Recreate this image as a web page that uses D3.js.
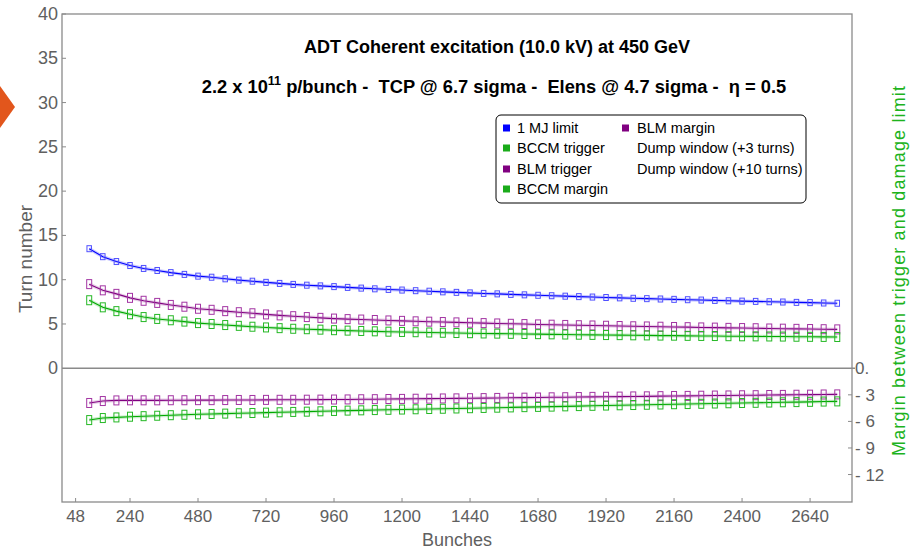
<!DOCTYPE html>
<html>
<head>
<meta charset="utf-8">
<script src="https://cdn.jsdelivr.net/npm/d3@7"></script>
<style>
body { margin: 0; background: #fff; }
text { font-family: "Liberation Sans", Arial, sans-serif; white-space: pre; }
</style>
</head>
<body>
<script>
var width = 910;
var height = 554;

// bunches per point
var bunches = [96, 144, 192, 240, 288, 336, 384, 432, 480, 528, 576, 624, 672, 720, 768, 816,
  864, 912, 960, 1008, 1056, 1104, 1152, 1200, 1248, 1296, 1344, 1392, 1440, 1488, 1536, 1584,
  1632, 1680, 1728, 1776, 1824, 1872, 1920, 1968, 2016, 2064, 2112, 2160, 2208, 2256, 2304, 2352,
  2400, 2448, 2496, 2544, 2592, 2640, 2688, 2736];

var limit1MJ = [13.5, 12.6, 12.05, 11.6, 11.27, 11.04, 10.8, 10.6, 10.4, 10.28, 10.1, 9.95, 9.83, 9.7,
  9.58, 9.47, 9.38, 9.3, 9.22, 9.13, 9.05, 8.97, 8.9, 8.83, 8.76, 8.7, 8.63, 8.57, 8.51, 8.45, 8.4,
  8.34, 8.29, 8.24, 8.19, 8.14, 8.09, 8.04, 7.99, 7.95, 7.9, 7.86, 7.82, 7.78, 7.74, 7.7, 7.66, 7.62,
  7.58, 7.55, 7.51, 7.48, 7.44, 7.41, 7.37, 7.34];

var blmTrigger = [9.5, 8.8, 8.4, 7.95, 7.62, 7.38, 7.15, 6.95, 6.72, 6.6, 6.45, 6.33, 6.21, 6.08, 5.97,
  5.88, 5.78, 5.69, 5.61, 5.55, 5.5, 5.45, 5.4, 5.35, 5.3, 5.26, 5.22, 5.18, 5.14, 5.1, 5.06, 5.02,
  4.99, 4.95, 4.92, 4.89, 4.86, 4.83, 4.8, 4.77, 4.74, 4.72, 4.69, 4.66, 4.64, 4.61, 4.59, 4.56, 4.54,
  4.52, 4.49, 4.47, 4.45, 4.43, 4.41, 4.39];

var bccmTrigger = [7.68, 6.88, 6.45, 6.1, 5.78, 5.57, 5.42, 5.27, 5.1, 5.0, 4.88, 4.79, 4.69, 4.61, 4.53,
  4.46, 4.41, 4.36, 4.3, 4.25, 4.21, 4.17, 4.13, 4.1, 4.07, 4.04, 4.01, 3.98, 3.96, 3.93, 3.91, 3.89,
  3.87, 3.85, 3.83, 3.81, 3.79, 3.77, 3.75, 3.74, 3.72, 3.71, 3.69, 3.68, 3.66, 3.65, 3.64, 3.62, 3.61,
  3.6, 3.59, 3.58, 3.56, 3.55, 3.54, 3.53];

var blmMargin = [-3.92, -3.7, -3.63, -3.62, -3.62, -3.62, -3.61, -3.61, -3.6, -3.6, -3.59, -3.58, -3.58,
  -3.57, -3.56, -3.56, -3.55, -3.54, -3.53, -3.52, -3.5, -3.49, -3.47, -3.46, -3.44, -3.43, -3.41, -3.4,
  -3.38, -3.37, -3.35, -3.33, -3.32, -3.3, -3.28, -3.27, -3.25, -3.23, -3.22, -3.2, -3.18, -3.17, -3.15,
  -3.13, -3.12, -3.1, -3.08, -3.07, -3.05, -3.04, -3.02, -3.01, -2.99, -2.98, -2.96, -2.95];

var bccmMargin = [-5.85, -5.62, -5.55, -5.47, -5.41, -5.36, -5.3, -5.25, -5.2, -5.16, -5.12, -5.08, -5.05,
  -5.01, -4.97, -4.93, -4.9, -4.86, -4.82, -4.78, -4.75, -4.72, -4.69, -4.66, -4.63, -4.6, -4.57, -4.54,
  -4.51, -4.48, -4.45, -4.42, -4.39, -4.36, -4.33, -4.3, -4.27, -4.24, -4.21, -4.18, -4.15, -4.12, -4.09,
  -4.06, -4.04, -4.01, -3.98, -3.95, -3.92, -3.9, -3.87, -3.84, -3.82, -3.79, -3.76, -3.74];

var xTicks = [48, 240, 480, 720, 960, 1200, 1440, 1680, 1920, 2160, 2400, 2640];
var yTicks = [0, 5, 10, 15, 20, 25, 30, 35, 40];
var marginTicks = [0, -3, -6, -9, -12];
var marginTickLabels = ["0.", "- 3", "- 6", "- 9", "- 12"];

var legendCol1 = ["1 MJ limit", "BCCM trigger", "BLM trigger", "BCCM margin"];
var legendCol2 = ["BLM margin", "Dump window (+3 turns)", "Dump window (+10 turns)"];

var blue = "#0000ff", green = "#1aab1a", purple = "#800080";
var legendCol1Colors = [blue, green, purple, green];
var legendCol2Colors = [purple, null, null];

var pLeft = 62, pRight = 852, pTop = 14, pBottom = 502;

var svg = d3.select("body")
  .append("svg")
  .attr("width", width)
  .attr("height", height);

var x = d3.scaleLinear().domain([0, 2788]).range([pLeft, pRight]);
var y = d3.scaleLinear().domain([-15.1, 40]).range([pBottom, pTop]);

var axisColor = "#8a8a8a", labelColor = "#606060";

// orange marker on the left edge
svg.append("polygon")
  .attr("points", "0,86 15,107 0,128")
  .attr("fill", "#e2561c");

// frame
svg.append("rect")
  .attr("x", pLeft).attr("y", pTop)
  .attr("width", pRight - pLeft).attr("height", pBottom - pTop)
  .attr("fill", "none")
  .attr("stroke", axisColor)
  .attr("stroke-width", 1.3);

svg.append("line")
  .attr("x1", pLeft).attr("x2", pRight + 3)
  .attr("y1", y(0)).attr("y2", y(0))
  .attr("stroke", axisColor)
  .attr("stroke-width", 1.3);

// left ticks
svg.selectAll(".ytick")
  .data(yTicks.filter(d => d > 0))
  .enter().append("line")
  .attr("x1", pLeft).attr("x2", pLeft + 4)
  .attr("y1", d => y(d)).attr("y2", d => y(d))
  .attr("stroke", axisColor);

svg.selectAll(".ylab")
  .data(yTicks)
  .enter().append("text")
  .attr("x", pLeft - 4)
  .attr("y", d => y(d) + 6)
  .attr("text-anchor", "end")
  .attr("font-size", "18px")
  .attr("fill", labelColor)
  .text(d => d);

// bottom ticks
svg.selectAll(".xtick")
  .data(xTicks)
  .enter().append("line")
  .attr("x1", d => x(d)).attr("x2", d => x(d))
  .attr("y1", pBottom).attr("y2", pBottom - 4)
  .attr("stroke", axisColor);

svg.selectAll(".xlab")
  .data(xTicks)
  .enter().append("text")
  .attr("x", d => x(d))
  .attr("y", 522)
  .attr("text-anchor", "middle")
  .attr("font-size", "17px")
  .attr("fill", labelColor)
  .text(d => d);

// right (margin) ticks
svg.selectAll(".rtick")
  .data(marginTicks.slice(1))
  .enter().append("line")
  .attr("x1", pRight - 4).attr("x2", pRight)
  .attr("y1", d => y(d)).attr("y2", d => y(d))
  .attr("stroke", axisColor);

svg.selectAll(".rlab")
  .data(marginTicks)
  .enter().append("text")
  .attr("x", pRight + 3)
  .attr("y", d => y(d) + 6)
  .attr("font-size", "17px")
  .attr("fill", labelColor)
  .text((d, i) => marginTickLabels[i]);

// axis labels
svg.append("text")
  .attr("x", (pLeft + pRight) / 2).attr("y", 546)
  .attr("text-anchor", "middle")
  .attr("font-size", "18px")
  .attr("fill", labelColor)
  .text("Bunches");

svg.append("text")
  .attr("transform", "translate(32,259) rotate(-90)")
  .attr("text-anchor", "middle")
  .attr("font-size", "19px")
  .attr("fill", labelColor)
  .text("Turn number");

svg.append("text")
  .attr("transform", "translate(905,271) rotate(-90)")
  .attr("text-anchor", "middle")
  .attr("font-size", "18px")
  .attr("textLength", 370)
  .attr("lengthAdjust", "spacing")
  .attr("fill", "#1db31d")
  .text("Margin between trigger and damage limit");

// series
var series = [
  { values: limit1MJ, line: "#0000ff", band: "#7a7aff", mark: "#5050ff", w: 4.5, h: 6 },
  { values: blmTrigger, line: "#800080", band: "#c58ac5", mark: "#a335a3", w: 5, h: 9 },
  { values: bccmTrigger, line: "#00a800", band: "#7fd47f", mark: "#25b825", w: 5, h: 9 },
  { values: blmMargin, line: "#800080", band: "#c58ac5", mark: "#a335a3", w: 5, h: 9 },
  { values: bccmMargin, line: "#00a800", band: "#7fd47f", mark: "#25b825", w: 5, h: 9 }
];

var line = d3.line()
  .x((d, i) => x(bunches[i]))
  .y(d => y(d));

var plot = svg.append("g");

series.forEach(s => {
  plot.append("path")
    .attr("d", line(s.values))
    .attr("fill", "none")
    .attr("stroke", s.band)
    .attr("stroke-width", 3.5)
    .attr("stroke-opacity", 0.4);
  plot.append("path")
    .attr("d", line(s.values))
    .attr("fill", "none")
    .attr("stroke", s.line)
    .attr("stroke-width", 1.1);
});

series.forEach(s => {
  plot.selectAll(null)
    .data(s.values)
    .enter().append("rect")
    .attr("x", (d, i) => x(bunches[i]) - s.w / 2)
    .attr("y", d => y(d) - s.h / 2)
    .attr("width", s.w)
    .attr("height", s.h)
    .attr("fill", "none")
    .attr("stroke", s.mark)
    .attr("stroke-width", 1);
});

// titles
svg.append("text")
  .attr("x", 497).attr("y", 53)
  .attr("text-anchor", "middle")
  .attr("font-size", "18px")
  .attr("font-weight", "bold")
  .text("ADT Coherent excitation (10.0 kV) at 450 GeV");

var sub = svg.append("text")
  .attr("x", 494).attr("y", 93)
  .attr("text-anchor", "middle")
  .attr("font-size", "18.3px")
  .attr("font-weight", "bold");
sub.append("tspan").text("2.2 x 10");
sub.append("tspan").attr("dy", -8).attr("font-size", "12.5px").text("11");
sub.append("tspan").attr("dy", 8).text(" p/bunch -  TCP @ 6.7 sigma -  Elens @ 4.7 sigma -  \u03b7 = 0.5");

// legend
var legend = svg.append("g");
legend.append("rect")
  .attr("x", 496).attr("y", 115)
  .attr("width", 310).attr("height", 88)
  .attr("rx", 5)
  .attr("fill", "#fff")
  .attr("stroke", "#000")
  .attr("stroke-width", 1);

var rowY = [128, 148, 169, 189];

function legendColumn(labels, colors, sx, tx) {
  labels.forEach((t, i) => {
    if (colors[i]) {
      legend.append("rect")
        .attr("x", sx).attr("y", rowY[i] - 3.5)
        .attr("width", 7).attr("height", 7)
        .attr("fill", colors[i]);
    }
    legend.append("text")
      .attr("x", tx).attr("y", rowY[i] + 5)
      .attr("font-size", "14.5px")
      .attr("fill", "#000")
      .text(t);
  });
}
legendColumn(legendCol1, legendCol1Colors, 503, 517);
legendColumn(legendCol2, legendCol2Colors, 622, 637);
</script>
</body>
</html>
